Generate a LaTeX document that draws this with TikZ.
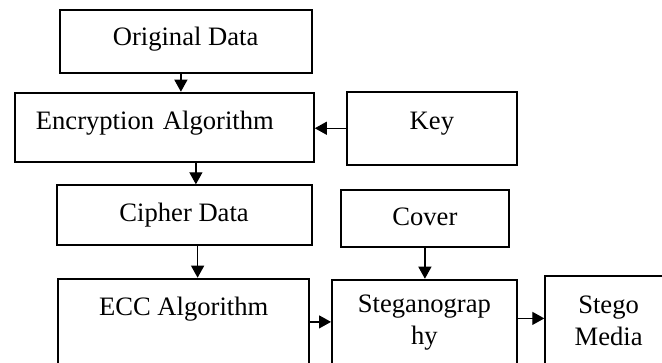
\documentclass[tikz,border=0pt]{standalone}
\usepackage{fontspec}
\setmainfont{Liberation Serif}
\usetikzlibrary{arrows.meta}

\begin{document}
\begin{tikzpicture}[x=1pt,y=-1pt,>={Triangle[length=12pt,width=13pt]},
    box/.style={draw,line width=1.8pt,inner sep=0pt,anchor=north west,align=center,
      font=\fontsize{26.6}{31.6}\selectfont},
    flow/.style={->,line width=1.2pt}]
    \useasboundingbox (0,0) rectangle (662,362);

    % data path
    \node[box,minimum width=252pt,text height=35.7pt,text depth=26.7pt] (orig) at (58.7,9.3) {Original Data};
    \node[box,text width=257pt,inner xsep=21pt,align=left,text height=36.6pt,text depth=32.7pt] (enc) at (14,91.7) {Encryption Algorithm};
    \node[box,minimum width=170pt,text height=37.6pt,text depth=35.7pt] (key) at (346,90.7) {Key};
    \node[box,minimum width=255pt,text height=36.7pt,text depth=22.7pt] (cipher) at (55.7,184.3) {Cipher Data};
    \node[box,minimum width=167.4pt,text height=35pt,text depth=21.7pt] (cover) at (340.3,189.3) {Cover};
    \node[box,minimum width=251pt,text height=36.6pt,text depth=50pt] (ecc) at (57.3,277.7) {ECC Algorithm};
    \node[box,minimum width=185pt,minimum height=85.6pt] (steg) at (331,278.7) {Steganograp\\hy};
    \node[box,minimum width=126.8pt,minimum height=89pt] (stego) at (544.3,275.3) {Stego\\Media};

    \draw[flow] ([xshift=-4.7pt]orig.south) -- ([xshift=-4.7pt]orig.south |- enc.north);
    \draw[flow] (key.west) -- (key.west -| enc.east);
    \draw[flow] ([xshift=31.5pt]enc.south) -- ([xshift=31.5pt]enc.south |- cipher.north);
    \draw[flow] ([xshift=13.5pt]cipher.south) -- ([xshift=13.5pt]cipher.south |- ecc.north);
    \draw[flow] (cover.south) -- (cover.south |- steg.north);
    \draw[flow] (ecc.east) -- (ecc.east -| steg.west);
    \draw[flow] ([yshift=4pt]steg.east) -- ([yshift=4pt]steg.east -| stego.west);
\end{tikzpicture}
\end{document}
